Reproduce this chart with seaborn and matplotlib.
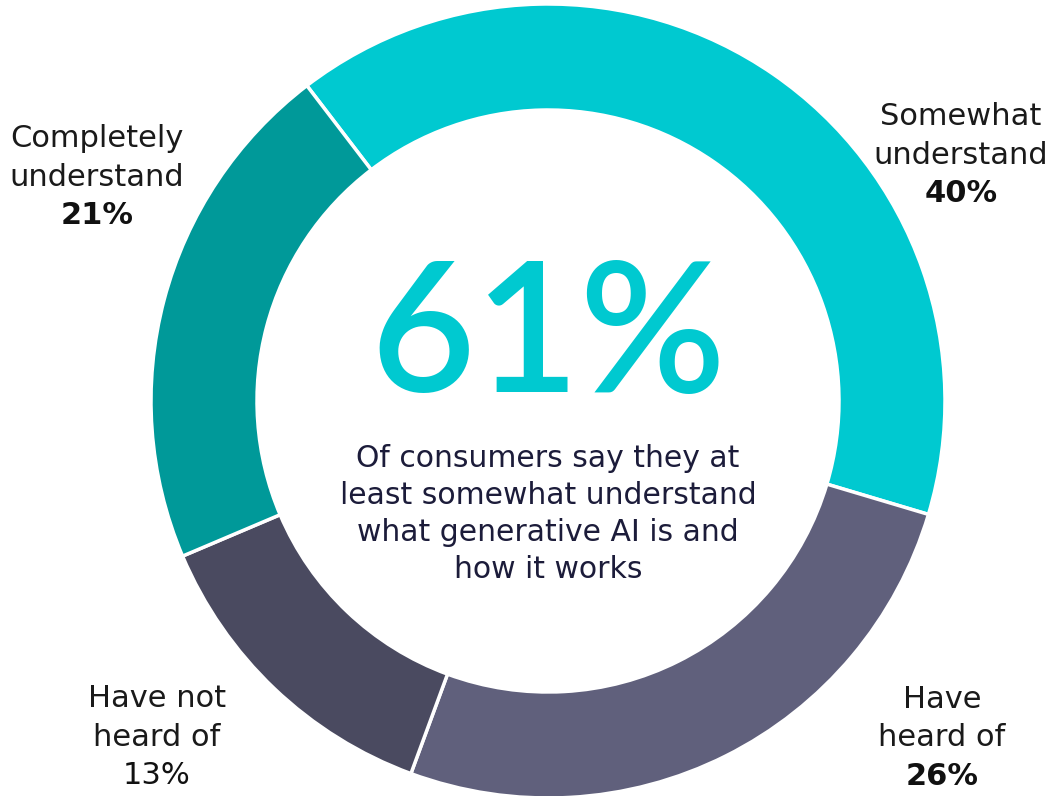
import matplotlib
matplotlib.use("Agg")
import matplotlib.pyplot as plt
import seaborn as sns

# Share of consumers by understanding of generative AI (clockwise from upper left)
categories = ["Somewhat understand", "Have heard of", "Have not heard of", "Completely understand"]
shares = [40, 26, 13, 21]
label_lines = [["Somewhat", "understand"], ["Have", "heard of"],
               ["Have not", "heard of"], ["Completely", "understand"]]
bold_pct = [True, True, False, True]
colors = ["#00C9D0", "#60607C", "#4A4A60", "#009999"]

headline = shares[0] + shares[3]
caption = ["Of consumers say they at", "least somewhat understand",
           "what generative AI is and", "how it works"]

sns.set_theme(style="white")
plt.rcParams["font.family"] = ["DejaVu Sans"]

W, H = 1051, 796
fig = plt.figure(figsize=(W / 100, H / 100), dpi=100)
ax = fig.add_axes([0, 0, 1, 1])

cx, cy, r = 548, 401, 397
ax.pie(shares, colors=colors, startangle=127.4, counterclock=False,
       radius=r, center=(cx, H - cy),
       wedgeprops=dict(width=106, edgecolor="white", linewidth=2.5))
ax.set_xlim(0, W)
ax.set_ylim(0, H)
ax.set_aspect("equal")
ax.axis("off")


def put(x, y, s, **kw):
    ax.text(x, H - y, s, ha="center", va="baseline", **kw)


# label anchors: (x center, first baseline) in pixel coords from top
anchors = [(961, 125), (942, 708), (157, 707), (97, 147)]
step = 38.5
for (x, y0), lines, v, b in zip(anchors, label_lines, shares, bold_pct):
    for i, line in enumerate(lines):
        put(x, y0 + i * step, line, fontsize=22, color="#1a1a1a")
    put(x, y0 + 2 * step, f"{v}%", fontsize=22, color="#111111",
        fontweight="bold" if b else "normal")

put(cx, 392, f"{headline}%", fontsize=130, color="#00C9D0",
    family=["Lato", "DejaVu Sans"], fontweight="semibold")
for i, line in enumerate(caption):
    put(cx, 467 + i * 37, line, fontsize=21.5, color="#1c1c3a")

fig.savefig("out.png", dpi=100, facecolor="white")
